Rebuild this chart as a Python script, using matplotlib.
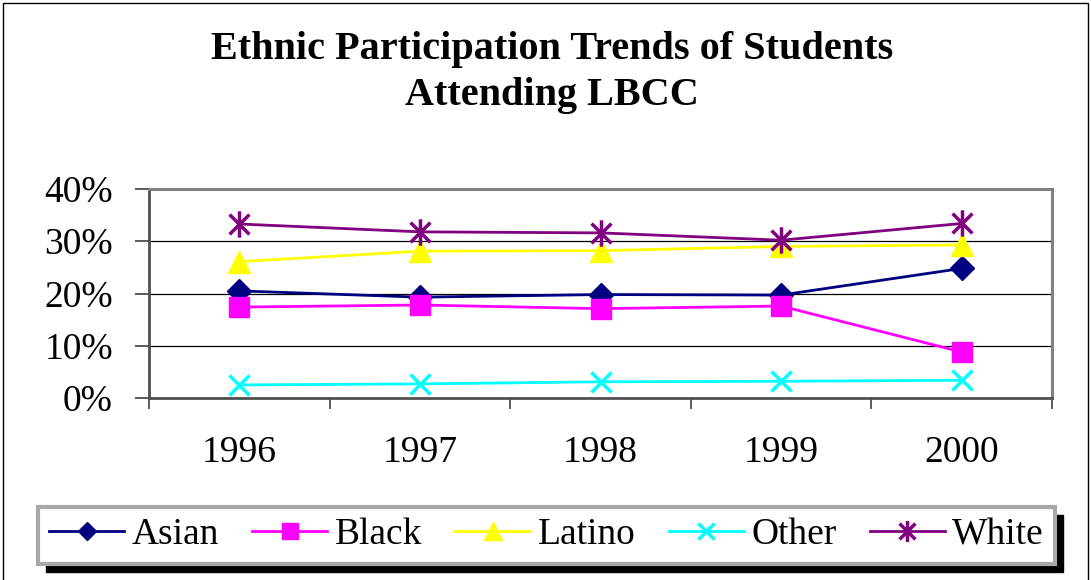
import matplotlib
matplotlib.use("Agg")
import matplotlib.pyplot as plt
from matplotlib.path import Path
from matplotlib.patches import Rectangle

years = ["1996", "1997", "1998", "1999", "2000"]
asian = [20.5, 19.3, 19.8, 19.7, 24.8]
black = [17.4, 17.8, 17.1, 17.6, 8.8]
latino = [26.1, 28.1, 28.2, 29.0, 29.3]
other = [2.5, 2.7, 3.1, 3.2, 3.4]
white = [33.3, 31.8, 31.6, 30.2, 33.4]
y_ticks = [0, 10, 20, 30, 40]
y_labels = ["0%", "10%", "20%", "30%", "40%"]

# excel style asterisk: vertical bar plus an x
star = Path([(0, -1), (0, 1), (-0.75, -0.75), (0.75, 0.75), (-0.75, 0.75), (0.75, -0.75)],
            [Path.MOVETO, Path.LINETO, Path.MOVETO, Path.LINETO, Path.MOVETO, Path.LINETO])

plt.rcParams['font.family'] = ['Liberation Serif', 'DejaVu Serif']

W, H = 1091, 580
fig = plt.figure(figsize=(W / 100, H / 100), dpi=100)
fig.patches.append(Rectangle((3 / W, -0.1), (1088 - 3) / W, 1 - 3 / H + 0.1,
                             transform=fig.transFigure, fill=False, edgecolor='black', lw=1))

ax = fig.add_axes([149 / W, 1 - 398 / H, (1052 - 149) / W, (398 - 189) / H])
x = list(range(len(years)))
ax.plot(x, asian, color='#000080', lw=2, marker='D', ms=12, label='Asian')
ax.plot(x, black, color='#ff00ff', lw=2, marker='s', ms=14, label='Black')
ax.plot(x, latino, color='#ffff00', lw=2, marker='^', ms=16, label='Latino')
ax.plot(x, other, color='#00ffff', lw=2, marker='x', ms=14, mew=2.5, label='Other')
ax.plot(x, white, color='#800080', lw=2, marker=star, ms=19, mew=2.5, label='White')

ax.set_xlim(-0.5, len(years) - 0.5)
ax.set_ylim(0, 40)
ax.set_yticks(y_ticks)
ax.set_yticklabels(y_labels)
ax.set_xticks([i - 0.5 for i in range(len(years) + 1)])
ax.set_xticklabels([])
ax.set_xticks(x, minor=True)
ax.set_xticklabels(years, minor=True)
ax.tick_params(axis='x', which='major', length=8, width=1.2, color='#404040', direction='out')
ax.tick_params(axis='x', which='minor', length=0, pad=27, labelsize=27)
ax.tick_params(axis='y', length=10, width=1.2, color='#404040', pad=16, labelsize=27)
ax.grid(axis='y', color='black', lw=0.9)
ax.set_axisbelow(True)
for side in ['top', 'right']:
    ax.spines[side].set_color('#808080')
    ax.spines[side].set_linewidth(2.2)
for side in ['left', 'bottom']:
    ax.spines[side].set_color('#505050')
    ax.spines[side].set_linewidth(2)

fig.text(552 / W, 1 - 49 / H, "Ethnic Participation Trends of Students", ha='center', va='center',
         fontsize=29, fontweight='bold')
fig.text(552 / W, 1 - 96 / H, "Attending LBCC", ha='center', va='center',
         fontsize=29, fontweight='bold')

leg = fig.legend(loc='center', ncol=5, mode='expand', fontsize=27,
                 bbox_to_anchor=(38 / W, 1 - 563 / H, (1055 - 38) / W, (563 - 507) / H),
                 borderaxespad=0, handlelength=2.0, handletextpad=0.2, columnspacing=0.6,
                 fancybox=False, framealpha=1, borderpad=0.3)
leg.get_frame().set_edgecolor('#a8a8a8')
leg.get_frame().set_linewidth(3)
for h in leg.legend_handles:
    h.set_markersize(h.get_markersize() * 0.8)

fig.canvas.draw()
bb = leg.get_window_extent().transformed(fig.transFigure.inverted())
shadow = Rectangle((bb.x0 + 8 / W, bb.y0 - 8 / H), bb.width, bb.height,
                   transform=fig.transFigure, color='black', zorder=leg.get_zorder() - 1)
fig.patches.append(shadow)

fig.savefig("out.png", dpi=100)
